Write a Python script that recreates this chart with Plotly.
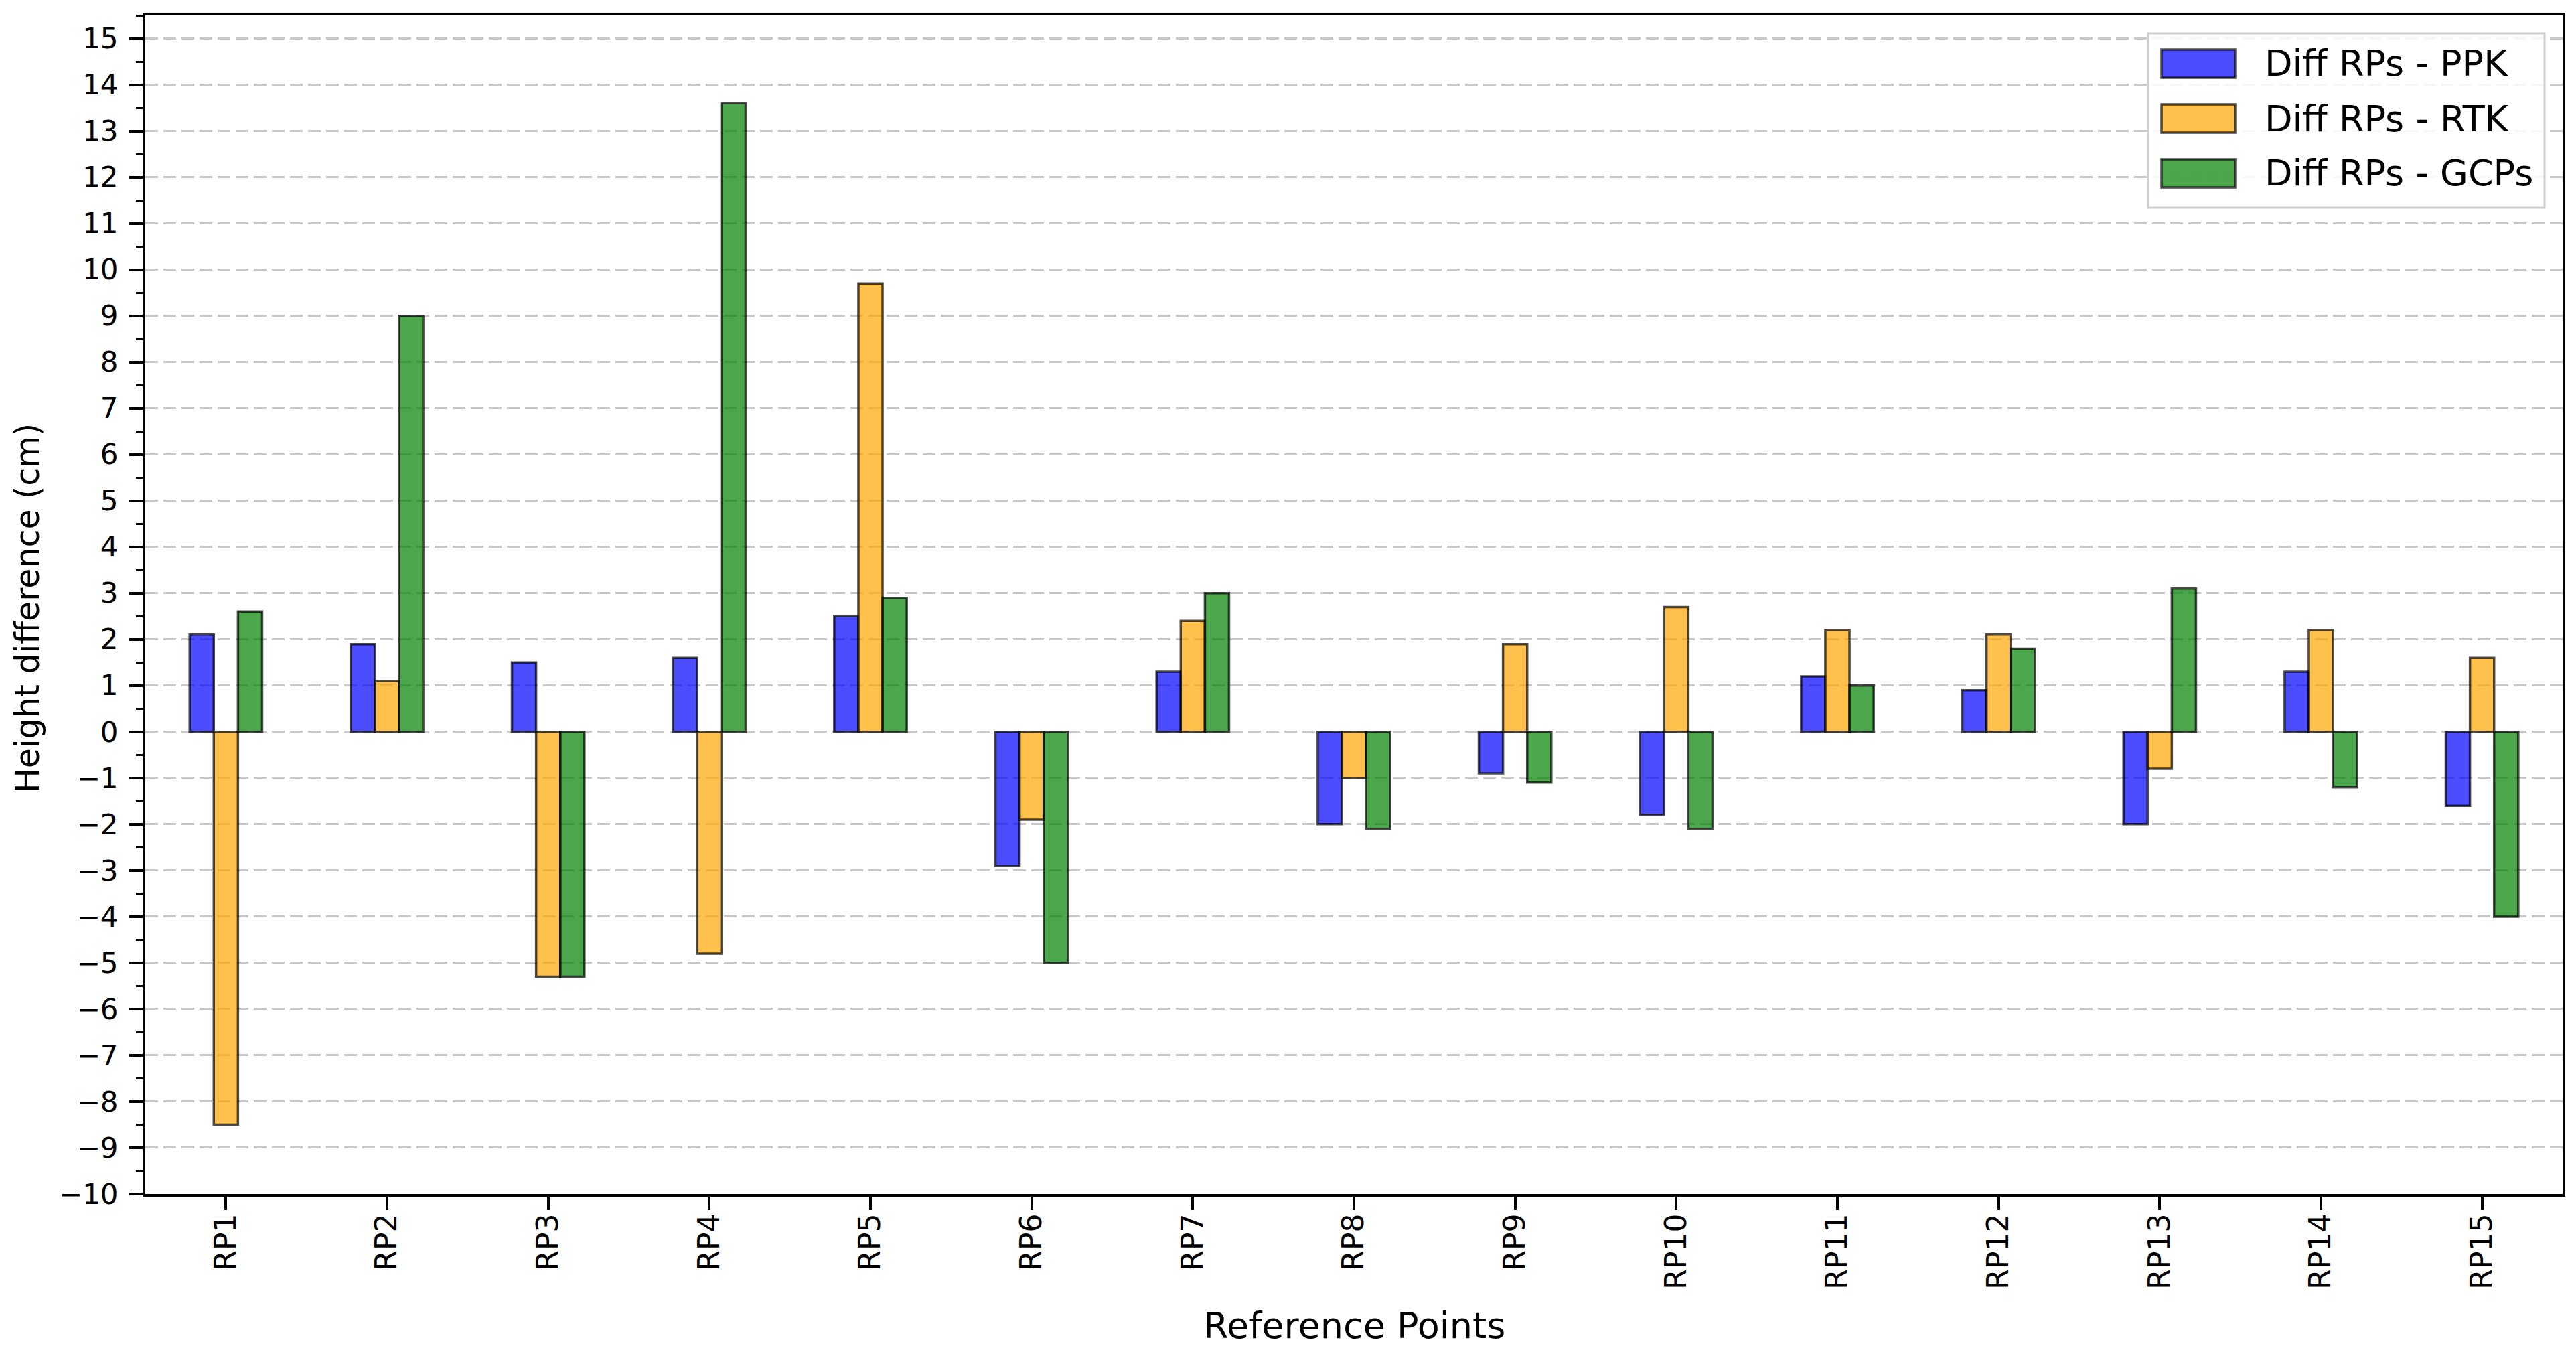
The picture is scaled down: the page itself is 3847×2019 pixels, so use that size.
import plotly.graph_objects as go

categories = ["RP1", "RP2", "RP3", "RP4", "RP5", "RP6", "RP7", "RP8", "RP9", "RP10",
              "RP11", "RP12", "RP13", "RP14", "RP15"]
diff_ppk = [2.1, 1.9, 1.5, 1.6, 2.5, -2.9, 1.3, -2.0, -0.9, -1.8, 1.2, 0.9, -2.0, 1.3, -1.6]
diff_rtk = [-8.5, 1.1, -5.3, -4.8, 9.7, -1.9, 2.4, -1.0, 1.9, 2.7, 2.2, 2.1, -0.8, 2.2, 1.6]
diff_gcps = [2.6, 9.0, -5.3, 13.6, 2.9, -5.0, 3.0, -2.1, -1.1, -2.1, 1.0, 1.8, 3.1, -1.2, -4.0]
series_names = ["Diff RPs - PPK", "Diff RPs - RTK", "Diff RPs - GCPs"]
series_colors = ["rgba(0,0,255,0.7)", "rgba(255,165,0,0.7)", "rgba(0,128,0,0.7)"]
y_ticks = list(range(-10, 16))
x_title = "Reference Points"
y_title = "Height difference (cm)"

W, H = 3847, 2019
ML, MR, MT, MB = 209, 28, 15, 244
font = "DejaVu Sans"
edge = "rgba(0,0,0,0.7)"

fig = go.Figure()
for name, vals, col in zip(series_names, [diff_ppk, diff_rtk, diff_gcps], series_colors):
    fig.add_trace(go.Bar(
        x=categories, y=vals, name=name,
        marker=dict(color=col, line=dict(color=edge, width=3.5)),
    ))

# helpers: pixel position -> paper coordinates
pw, ph = W - ML - MR, H - MT - MB
def px(x):
    return (x - ML) / pw
def py(y):
    return (H - MB - y) / ph

# custom legend (wide swatches like the original)
shapes = [dict(type="rect", xref="paper", yref="paper",
               x0=px(3200), x1=px(3792), y0=py(302), y1=py(42),
               fillcolor="rgba(255,255,255,0.85)", line=dict(color="#cfcfcf", width=3), layer="above")]
annotations = []
row_y = [87, 169, 251]
for name, col, ry in zip(series_names, series_colors, row_y):
    shapes.append(dict(type="rect", xref="paper", yref="paper",
                       x0=px(3220), x1=px(3330), y0=py(ry + 21), y1=py(ry - 21),
                       fillcolor=col, line=dict(color=edge, width=3.5), layer="above"))
    annotations.append(dict(xref="paper", yref="paper", x=px(3372), y=py(ry),
                            xanchor="left", yanchor="middle", text=name, showarrow=False,
                            font=dict(size=54, family=font, color="black")))

# axis titles
annotations.append(dict(xref="paper", yref="paper", x=0.5, y=py(1972),
                        xanchor="center", yanchor="middle", text=x_title, showarrow=False,
                        font=dict(size=54, family=font, color="black")))
annotations.append(dict(xref="paper", yref="paper", x=px(33), y=py(900),
                        xanchor="center", yanchor="middle", text=y_title, showarrow=False,
                        textangle=-90, font=dict(size=49, family=font, color="black")))

fig.update_layout(
    width=W, height=H,
    barmode="group", bargap=0.55, bargroupgap=0,
    plot_bgcolor="white", paper_bgcolor="white",
    margin=dict(l=ML, r=MR, t=MT, b=MB, autoexpand=False),
    font=dict(family=font, color="black"),
    showlegend=False,
    shapes=shapes, annotations=annotations,
)
fig.update_xaxes(
    tickangle=-90, tickfont=dict(size=44), ticklabelstandoff=-12,
    ticks="outside", ticklen=20, tickwidth=4, tickcolor="black",
    showline=True, linecolor="black", linewidth=4, mirror=True,
    showgrid=False, range=[-0.5, 14.5], automargin=False,
)
fig.update_yaxes(
    range=[-10, 15.5], tickvals=y_ticks, tickfont=dict(size=42), ticklabelstandoff=8,
    ticks="outside", ticklen=20, tickwidth=4, tickcolor="black",
    minor=dict(dtick=0.5, ticks="outside", ticklen=10, tickwidth=3, tickcolor="black", showgrid=False),
    showline=True, linecolor="black", linewidth=4, mirror=True,
    showgrid=True, gridcolor="rgba(176,176,176,0.7)", gridwidth=3, griddash="19px,8px",
    zeroline=False, automargin=False,
)
fig.write_html("out.html")
